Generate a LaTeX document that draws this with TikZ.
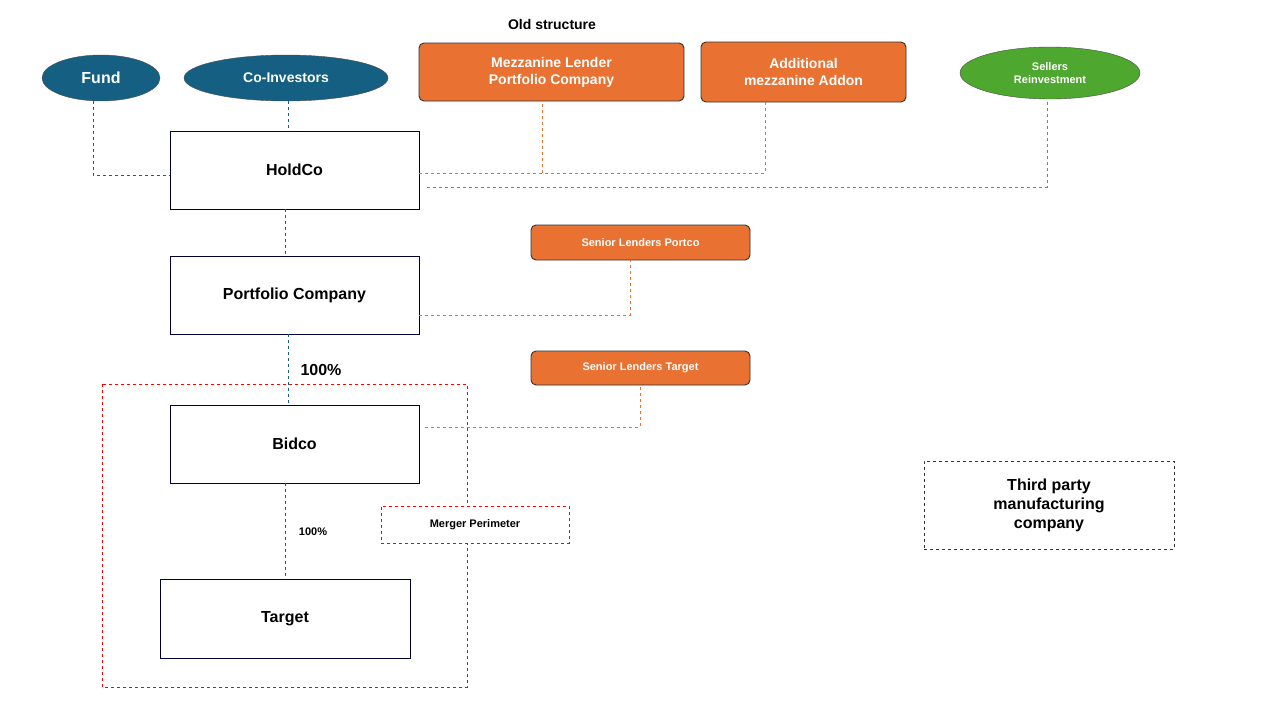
\documentclass[tikz,border=0pt]{standalone}
\usepackage{fontspec}
\setmainfont{Liberation Sans}
\usetikzlibrary{shapes.geometric}
\begin{document}
\begin{tikzpicture}[x=1pt,y=-1pt,
 box/.style={draw=black!80!blue,line width=0.9pt,minimum width=249pt,minimum height=78pt,font=\bfseries\fontsize{16}{19}\selectfont,align=center},
 ell/.style={ellipse,draw=black!70,fill=db,text=white,font=\bfseries},
 org/.style={draw=black!80,fill=og,rounded corners=5pt,text=white,font=\bfseries,align=center,line width=0.9pt},
 bl/.style={db,dashed,line width=0.9pt},
 ol/.style={og,dashed,line width=0.9pt},
 gl/.style={gr,dashed,line width=0.9pt}]
\definecolor{db}{HTML}{156082}
\definecolor{og}{HTML}{E97132}
\definecolor{gr}{HTML}{4EA72E}
\useasboundingbox (0,0) rectangle (1280,720);
\node[font=\bfseries\fontsize{14}{16}\selectfont] (t) at (552,24) {Old structure};
\node[ell,minimum width=118pt,minimum height=46pt,font=\bfseries\fontsize{16}{19}\selectfont] (fund) at (101,78) {Fund};
\node[ell,minimum width=204pt,minimum height=46pt,font=\bfseries\fontsize{14}{16}\selectfont] (co) at (286,78) {Co-Investors};
\node[org,minimum width=265pt,minimum height=58pt,font=\bfseries\fontsize{14}{17}\selectfont] (mez) at (551.5,72) {Mezzanine Lender\\Portfolio Company};
\node[org,minimum width=205pt,minimum height=60pt,font=\bfseries\fontsize{14}{17}\selectfont] (add) at (803.5,72) {Additional\\mezzanine Addon};
\node[ellipse,draw=black!70,fill=gr,text=white,minimum width=180pt,minimum height=52pt,align=center,font=\bfseries\fontsize{11}{13}\selectfont] (sel) at (1050,73) {Sellers\\Reinvestment};
\node[box] (hold) at (294.5,170) {HoldCo};
\node[box] (port) at (294.5,295) {Portfolio Company};
\node[box] (bid) at (294.5,444) {Bidco};
\node[box,minimum width=250pt,minimum height=79pt] (tar) at (285,618.5) {Target};
\node[org,minimum width=219pt,minimum height=35pt,font=\bfseries\fontsize{11}{13}\selectfont] (slp) at (640.5,242.5) {Senior Lenders Portco};
\node[org,minimum width=219pt,minimum height=34pt,font=\bfseries\fontsize{11}{13}\selectfont] (slt) at (640.5,368) {Senior Lenders Target};
\draw[red,dashed,line width=0.9pt] (102,384) rectangle (467,687);
\node[draw=red,dashed,fill=white,line width=0.9pt,minimum width=188pt,minimum height=37pt,font=\bfseries\fontsize{11}{13}\selectfont] (mp) at (475,524.5) {Merger Perimeter};
\node[draw=black!80,dashed,line width=0.9pt,minimum width=250pt,minimum height=88pt,align=center,font=\bfseries\fontsize{16}{19}\selectfont] (tp) at (1049,505) {Third party\\manufacturing\\company};
\node[font=\bfseries\fontsize{16}{19}\selectfont] (p1) at (321,370) {100\%};
\node[font=\bfseries\fontsize{11}{13}\selectfont] (p2) at (313,532) {100\%};
\coordinate (c1) at (93,175);
\draw[bl] (fund.south -| c1) -- (c1) -- (hold.west |- c1);
\draw[bl] (288,101) -- (288,131);
\draw[bl] (285,209) -- (285,256);
\draw[bl] (288,334) -- (288,405);
\draw[bl] (285,483) -- (285,579);
\coordinate (o1) at (542,173); \coordinate (o2) at (765,173);
\draw[ol] (hold.east |- o1) -- (o2) -- (o2 |- add.south);
\draw[ol] (o1) -- (o1 |- mez.south);
\coordinate (g1) at (1047,187);
\draw[gl] (427,187) -- (g1) -- (g1 |- sel.south);
\coordinate (o3) at (630,315);
\draw[ol] (port.east |- o3) -- (o3) -- (o3 |- slp.south);
\coordinate (o4) at (640,427);
\draw[ol] (425,427) -- (o4) -- (o4 |- slt.south);
\end{tikzpicture}
\end{document}
